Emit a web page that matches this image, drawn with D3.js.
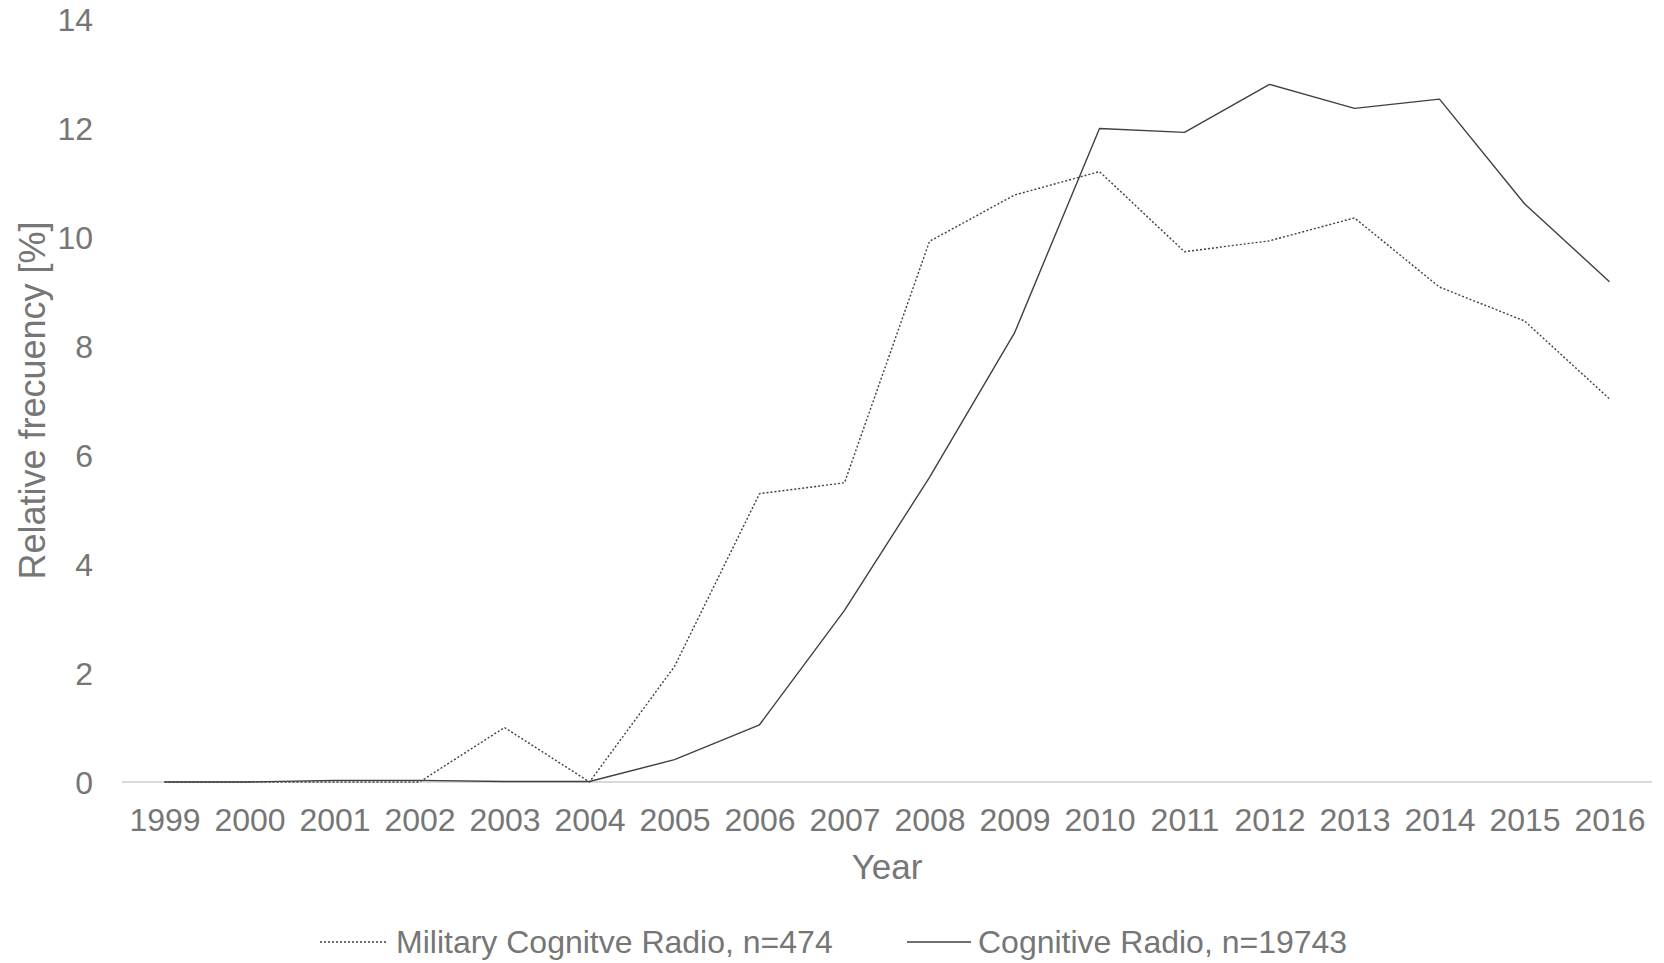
<!DOCTYPE html>
<html>
<head>
<meta charset="utf-8">
<script src="https://cdn.jsdelivr.net/npm/d3@7"></script>
<style>
  html, body { margin: 0; padding: 0; background: #fff; }
  svg { display: block; font-family: "Liberation Sans", Arial, sans-serif; }
</style>
</head>
<body>
<svg id="chart" width="1664" height="963"></svg>
<script>
const years = ["1999","2000","2001","2002","2003","2004","2005","2006","2007","2008","2009","2010","2011","2012","2013","2014","2015","2016"];
const militaryValues = [0, 0, 0, 0, 1.0, 0, 2.12, 5.29, 5.49, 9.92, 10.77, 11.2, 9.73, 9.93, 10.35, 9.08, 8.46, 7.03];
const cognitiveValues = [0, 0, 0.03, 0.03, 0.01, 0.01, 0.41, 1.05, 3.15, 5.59, 8.24, 11.99, 11.92, 12.8, 12.36, 12.53, 10.61, 9.18];
const yTicks = [0, 2, 4, 6, 8, 10, 12, 14];
const seriesNames = ["Military Cognitve Radio, n=474", "Cognitive Radio, n=19743"];
const xTitle = "Year";
const yTitle = "Relative frecuency [%]";

(function () {
const series = [
  { name: seriesNames[0], values: militaryValues, dash: "2,2" },
  { name: seriesNames[1], values: cognitiveValues, dash: null }
];

const svg = d3.select("#chart");
const pLeft = 122, pRight = 1652, pTop = 19, pBottom = 782;
const textColor = "#767676";

const x = d3.scalePoint().domain(years).range([pLeft, pRight]).padding(0.5);
const y = d3.scaleLinear().domain([0, 14]).range([pBottom, pTop]);

// Y axis labels (no line, no ticks)
const yAxis = d3.axisLeft(y).tickValues(yTicks).tickSize(0).tickPadding(0).tickFormat(d3.format("d"));
const gy = svg.append("g").attr("transform", "translate(93,0)").call(yAxis);
gy.select(".domain").remove();
gy.selectAll("text").attr("fill", textColor).style("font-size", "32px").attr("dy", "0.35em");

// X axis
const xAxis = d3.axisBottom(x).tickSize(0).tickPadding(0);
const gx = svg.append("g").attr("transform", `translate(0,${pBottom})`).call(xAxis);
gx.select(".domain").remove();
gx.selectAll("text").attr("fill", textColor).style("font-size", "32px").attr("y", 38).attr("dy", "0.35em");

svg.append("line")
  .attr("x1", pLeft).attr("x2", pRight).attr("y1", pBottom).attr("y2", pBottom)
  .attr("stroke", "#d9d9d9").attr("stroke-width", 2);

// Lines
const line = d3.line().x((d, i) => x(years[i])).y(d => y(d));
series.forEach(s => {
  svg.append("path")
    .datum(s.values)
    .attr("d", line)
    .attr("fill", "none")
    .attr("stroke", "#404040")
    .attr("stroke-width", 1.4)
    .attr("stroke-dasharray", s.dash)
    .attr("stroke-linejoin", "round");
});

// Axis titles
svg.append("text")
  .attr("x", (pLeft + pRight) / 2).attr("y", 867).attr("dy", "0.35em")
  .attr("text-anchor", "middle").attr("fill", textColor).style("font-size", "35px")
  .text(xTitle);

svg.append("text")
  .attr("transform", `translate(32,${(pTop + pBottom) / 2}) rotate(-90)`)
  .attr("dy", "0.35em")
  .attr("text-anchor", "middle").attr("fill", textColor).style("font-size", "36px")
  .text(yTitle);

// Legend
const legendItems = [
  { s: series[0], x1: 320, x2: 388, tx: 396 },
  { s: series[1], x1: 907, x2: 971, tx: 978 }
];
const legY = 942;
legendItems.forEach(it => {
  svg.append("line")
    .attr("x1", it.x1).attr("x2", it.x2).attr("y1", legY).attr("y2", legY)
    .attr("stroke", "#404040").attr("stroke-width", 1.4)
    .attr("stroke-dasharray", it.s.dash);
  svg.append("text")
    .attr("x", it.tx).attr("y", legY).attr("dy", "0.35em")
    .attr("fill", textColor).style("font-size", "32px")
    .text(it.s.name);
});
})();
</script>
</body>
</html>
